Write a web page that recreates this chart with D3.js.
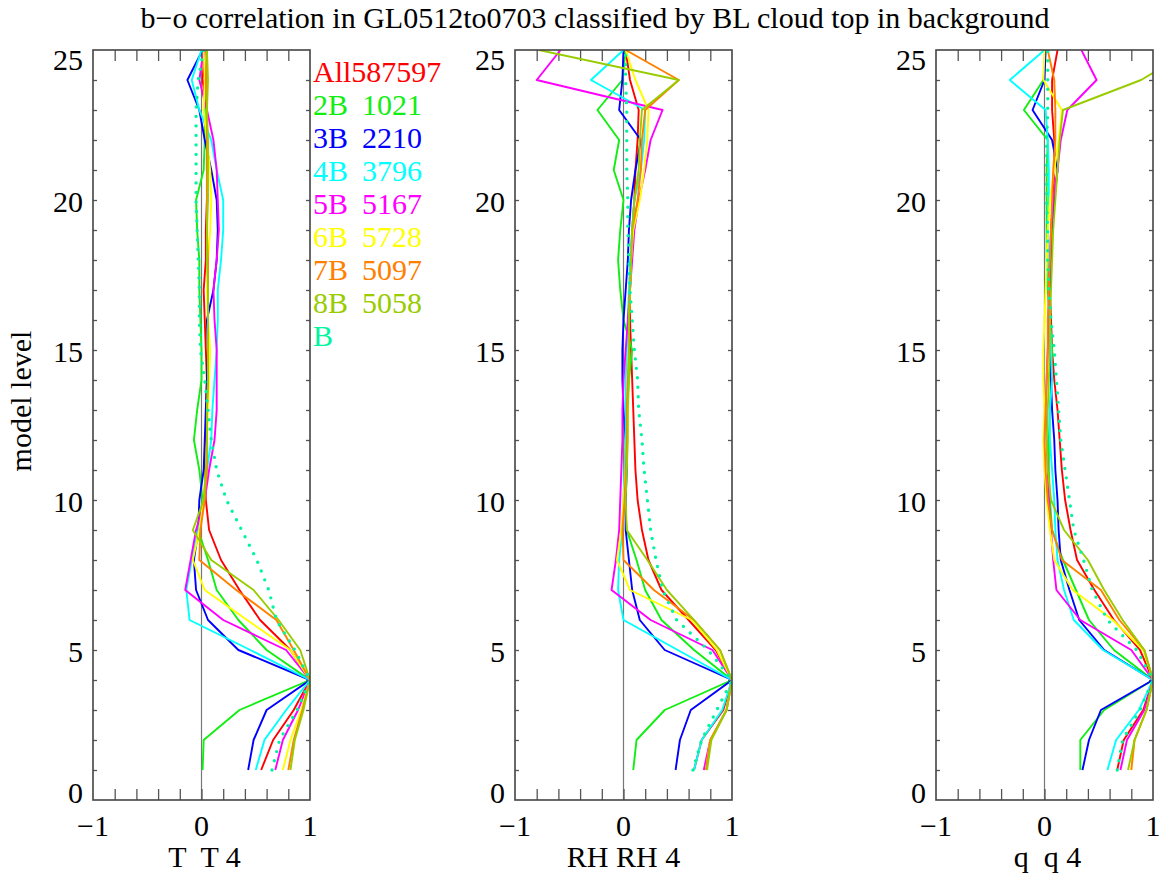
<!DOCTYPE html>
<html>
<head>
<meta charset="utf-8">
<script src="https://cdn.jsdelivr.net/npm/d3@7"></script>
<style>
	body { margin: 0; background: #fff; }
	svg text { font-family: "Liberation Serif", "Times New Roman", serif; }
</style>
</head>
<body>
<div id="chart"></div>
<script>
// model levels 1..25
let levels = d3.range(1, 26);

let seriesNames = ["All", "2B", "3B", "4B", "5B", "6B", "7B", "8B", "B"];
let seriesCounts = ["587597", "1021", "2210", "3796", "5167", "5728", "5097", "5058", ""];
let seriesColors = ["#ff0000", "#11ee11", "#0000ff", "#00ffff", "#ff00ff", "#ffff00", "#ff8000", "#99cc00", "#00f5a0"];

let xTicks = [-1, 0, 1];
let yTicks = [0, 5, 10, 15, 20, 25];
let panelTitles = ["T  T 4", "RH RH 4", "q  q 4"];
let chartTitle = "b\u2212o correlation in GL0512to0703 classified by BL cloud top in background";
let yTitle = "model level";

// correlation with level 4, one row per series, levels 1..25
let corrT = [
	[0.55, 0.66, 0.85, 1, 0.82, 0.54, 0.35, 0.18, 0.07, 0.04, 0.03, 0.04, 0.04, 0.05, 0.04, 0.03, 0.02, 0.04, 0.04, 0.05, 0.05, 0.05, 0.05, 0.01, 0.03],
	[0.01, 0.02, 0.35, 1, 0.6, 0.34, 0.14, 0.06, -0.03, 0.01, -0.02, -0.07, -0.04, 0.0, 0.0, -0.01, -0.02, -0.02, -0.04, -0.05, 0.02, 0.03, 0.03, 0.04, 0.05],
	[0.43, 0.48, 0.6, 1, 0.34, 0.06, -0.05, -0.07, -0.03, -0.02, 0.02, 0.03, 0.04, 0.05, 0.06, 0.05, 0.11, 0.14, 0.15, 0.14, 0.09, 0.03, -0.02, -0.13, 0.01],
	[0.5, 0.58, 0.78, 1, 0.45, -0.11, -0.14, -0.09, -0.03, 0.02, 0.05, 0.09, 0.1, 0.12, 0.14, 0.15, 0.15, 0.18, 0.2, 0.2, 0.14, 0.09, -0.02, -0.09, 0.0],
	[0.68, 0.75, 0.89, 1, 0.78, 0.2, -0.15, -0.1, -0.05, 0.03, 0.07, 0.12, 0.14, 0.14, 0.14, 0.12, 0.11, 0.14, 0.16, 0.15, 0.14, 0.11, 0.05, -0.02, 0.02],
	[0.75, 0.82, 0.92, 1, 0.82, 0.42, 0.03, -0.08, -0.02, 0.02, 0.04, 0.05, 0.06, 0.07, 0.08, 0.06, 0.05, 0.06, 0.08, 0.09, 0.08, 0.05, 0.02, 0.03, 0.02],
	[0.8, 0.85, 0.93, 1, 0.85, 0.69, 0.32, -0.02, -0.01, 0.03, 0.05, 0.05, 0.05, 0.06, 0.06, 0.06, 0.06, 0.06, 0.05, 0.05, 0.05, 0.05, 0.05, 0.04, 0.05],
	[0.82, 0.86, 0.94, 1, 0.91, 0.71, 0.48, 0.09, -0.08, 0.02, 0.04, 0.05, 0.05, 0.06, 0.06, 0.06, 0.06, 0.05, 0.05, 0.06, 0.06, 0.06, 0.05, 0.06, 0.05],
	[0.65, 0.72, 0.88, 1, 0.86, 0.69, 0.62, 0.51, 0.37, 0.23, 0.14, 0.09, 0.06, 0.03, -0.01, -0.02, -0.02, -0.03, -0.04, -0.05, -0.05, -0.05, -0.05, -0.03, 0.02]
];

let corrRH = [
	[0.65, 0.72, 0.92, 1, 0.85, 0.6, 0.35, 0.23, 0.17, 0.13, 0.11, 0.1, 0.09, 0.08, 0.07, 0.06, 0.06, 0.07, 0.08, 0.1, 0.11, 0.13, 0.14, 0.06, 0.02],
	[0.09, 0.12, 0.38, 1, 0.65, 0.35, 0.2, 0.12, 0.03, 0.01, 0.01, 0.02, 0.03, 0.05, 0.08, 0.0, -0.03, -0.05, -0.03, 0.0, -0.09, -0.04, -0.24, -0.01, 0.02],
	[0.48, 0.52, 0.62, 1, 0.38, 0.15, 0.08, 0.05, 0.02, 0.02, 0.03, 0.02, 0.0, -0.01, -0.01, 0.0, 0.02, 0.04, 0.05, 0.07, 0.11, 0.16, -0.04, -0.01, 0.0],
	[0.65, 0.72, 0.91, 1, 0.5, 0.0, -0.05, -0.04, -0.01, 0.0, 0.01, 0.02, 0.02, 0.02, 0.03, 0.04, 0.05, 0.06, 0.08, 0.1, 0.16, 0.19, 0.2, -0.3, 0.0],
	[0.74, 0.8, 0.95, 1, 0.82, 0.25, -0.11, -0.07, -0.04, -0.03, -0.02, -0.01, -0.01, 0.0, 0.02, 0.04, 0.06, 0.08, 0.1, 0.14, 0.2, 0.25, 0.36, -0.8, -0.58],
	[0.76, 0.8, 0.95, 1, 0.86, 0.63, 0.06, -0.06, -0.02, 0.0, 0.02, 0.03, 0.04, 0.04, 0.05, 0.05, 0.06, 0.07, 0.09, 0.15, 0.19, 0.22, 0.23, 0.11, 0.02],
	[0.76, 0.8, 0.95, 1, 0.89, 0.65, 0.28, 0.0, -0.01, 0.01, 0.02, 0.03, 0.03, 0.04, 0.05, 0.05, 0.06, 0.07, 0.08, 0.13, 0.16, 0.17, 0.2, 0.51, 0.02],
	[0.77, 0.81, 0.95, 1, 0.89, 0.65, 0.4, 0.22, 0.03, 0.02, 0.03, 0.04, 0.04, 0.05, 0.05, 0.05, 0.06, 0.07, 0.08, 0.1, 0.14, 0.15, 0.17, 0.51, -0.78],
	[0.64, 0.72, 0.86, 1, 0.78, 0.49, 0.36, 0.3, 0.25, 0.22, 0.19, 0.17, 0.14, 0.13, 0.1, 0.08, 0.06, 0.05, 0.04, 0.04, 0.03, 0.03, 0.03, 0.02, 0.02]
];

let corrQ = [
	[0.67, 0.73, 0.91, 1, 0.88, 0.64, 0.46, 0.3, 0.24, 0.19, 0.16, 0.14, 0.12, 0.09, 0.07, 0.06, 0.05, 0.06, 0.06, 0.08, 0.09, 0.09, 0.07, 0.07, 0.12],
	[0.33, 0.33, 0.55, 1, 0.64, 0.41, 0.29, 0.17, 0.07, 0.05, 0.04, 0.04, 0.05, 0.06, 0.07, 0.05, 0.03, 0.02, 0.02, 0.02, 0.02, 0.03, -0.19, -0.01, 0.01],
	[0.35, 0.41, 0.52, 1, 0.55, 0.32, 0.23, 0.15, 0.13, 0.12, 0.1, 0.09, 0.07, 0.06, 0.05, 0.05, 0.05, 0.06, 0.07, 0.09, 0.12, 0.07, -0.11, 0.0, 0.01],
	[0.58, 0.66, 0.87, 1, 0.54, 0.27, 0.18, 0.12, 0.1, 0.09, 0.07, 0.05, 0.05, 0.07, 0.06, 0.05, 0.04, 0.03, 0.03, 0.04, 0.04, 0.03, 0.01, -0.32, 0.0],
	[0.7, 0.76, 0.92, 1, 0.8, 0.33, 0.11, 0.08, 0.06, 0.04, 0.03, 0.02, 0.01, 0.02, 0.03, 0.04, 0.04, 0.05, 0.06, 0.08, 0.12, 0.15, 0.21, 0.48, 0.34],
	[0.8, 0.83, 0.94, 1, 0.91, 0.63, 0.26, 0.09, 0.05, 0.02, 0.0, -0.01, 0.0, -0.01, -0.01, 0.0, 0.01, 0.02, 0.03, 0.05, 0.09, 0.13, 0.16, -0.01, 0.0],
	[0.8, 0.83, 0.94, 1, 0.92, 0.69, 0.52, 0.16, 0.07, 0.03, 0.01, 0.0, 0.01, 0.02, 0.03, 0.03, 0.04, 0.05, 0.06, 0.07, 0.08, 0.1, 0.1, 0.09, 0.03],
	[0.77, 0.83, 0.94, 1, 0.92, 0.72, 0.55, 0.4, 0.18, 0.06, 0.03, 0.02, 0.03, 0.04, 0.05, 0.05, 0.06, 0.07, 0.08, 0.1, 0.12, 0.14, 0.17, 0.89, 1.35],
	[0.67, 0.72, 0.88, 1, 0.85, 0.58, 0.44, 0.36, 0.27, 0.23, 0.19, 0.15, 0.13, 0.11, 0.09, 0.06, 0.04, 0.03, 0.03, 0.02, 0.02, 0.02, 0.03, 0.03, 0.03]
];

let svg;
let width = 1161, height = 879;
let panelLeft = [93, 515, 936];
let panelWidth = 217;
let plotTop = 50, plotBottom = 800;
let fontSize = "30px";

//
//	initD3
//
//
initD3 = function () {
	svg = d3
		.select("#chart")
		.append("svg")
		.attr("width", width)
		.attr("height", height);

	svg
		.append("text")
		.attr("x", 595)
		.attr("y", 28)
		.attr("text-anchor", "middle")
		.attr("font-size", fontSize)
		.text(chartTitle);

	svg
		.append("text")
		.attr("transform", "translate(31,401) rotate(-90)")
		.attr("text-anchor", "middle")
		.attr("font-size", fontSize)
		.text(yTitle);
};

//
//	drawPanel
//
//
drawPanel = function (idx, data) {
	let left = panelLeft[idx];
	let x = d3.scaleLinear().domain([-1, 1]).range([left, left + panelWidth]);
	let y = d3.scaleLinear().domain([0, 25]).range([plotBottom, plotTop]);

	let g = svg.append("g");
	let clipId = "clip" + idx;
	g.append("clipPath")
		.attr("id", clipId)
		.append("rect")
		.attr("x", x(-1))
		.attr("y", y(25))
		.attr("width", x(1) - x(-1))
		.attr("height", y(0) - y(25));

	// zero line
	g.append("line")
		.attr("x1", x(0))
		.attr("x2", x(0))
		.attr("y1", y(0))
		.attr("y2", y(25))
		.attr("stroke", "#777")
		.attr("stroke-width", 1.2);

	// minor ticks every 0.2 on bottom and top, every level on both sides
	let tickColor = "#555";
	let xMinor = d3.range(-8, 9, 2).map((d) => d / 10);
	let yMinor = d3.range(1, 25);

	let bottomAxis = d3.axisBottom(x).tickValues(xMinor).tickSize(-11).tickFormat("");
	let topAxis = d3.axisTop(x).tickValues(xMinor).tickSize(-11).tickFormat("");
	let leftAxis = d3.axisLeft(y).tickValues(yMinor).tickSize(-4).tickFormat("");
	let rightAxis = d3.axisRight(y).tickValues(yMinor).tickSize(-4).tickFormat("");

	[
		[bottomAxis, "translate(0," + y(0) + ")"],
		[topAxis, "translate(0," + y(25) + ")"],
		[leftAxis, "translate(" + x(-1) + ",0)"],
		[rightAxis, "translate(" + x(1) + ",0)"],
	].forEach((a) => {
		let ax = g.append("g").attr("transform", a[1]).call(a[0]);
		ax.select(".domain").remove();
		ax.selectAll("line").attr("stroke", tickColor).attr("stroke-width", 1.3);
	});

	// series lines
	let line = d3
		.line()
		.x((d) => x(d[1]))
		.y((d) => y(d[0]));

	let lines = g.append("g").attr("clip-path", "url(#" + clipId + ")");
	data.forEach((values, i) => {
		let pts = levels.map((lv, k) => [lv, values[k]]);
		let p = lines
			.append("path")
			.datum(pts)
			.attr("d", line)
			.attr("fill", "none")
			.attr("stroke", seriesColors[i])
			.attr("stroke-linejoin", "round");
		if (seriesNames[i] === "B") {
			p.attr("stroke-width", 3.4)
				.attr("stroke-linecap", "round")
				.attr("stroke-dasharray", "0,9.5");
		} else {
			p.attr("stroke-width", 1.9);
		}
	});

	// frame
	g.append("rect")
		.attr("x", x(-1))
		.attr("y", y(25))
		.attr("width", x(1) - x(-1))
		.attr("height", y(0) - y(25))
		.attr("fill", "none")
		.attr("stroke", "#444")
		.attr("stroke-width", 1.6);

	// tick labels
	g.selectAll(".xlab")
		.data(xTicks)
		.enter()
		.append("text")
		.attr("x", (d) => x(d))
		.attr("y", 836)
		.attr("text-anchor", "middle")
		.attr("font-size", fontSize)
		.text((d) => (d < 0 ? "\u2212" + Math.abs(d) : d));

	g.selectAll(".ylab")
		.data(yTicks)
		.enter()
		.append("text")
		.attr("x", x(-1) - 10)
		.attr("y", (d) => y(d) + (d === 0 ? -8 : d === 25 ? 9 : 1))
		.attr("dy", "0.35em")
		.attr("text-anchor", "end")
		.attr("font-size", fontSize)
		.text((d) => d);

	g.append("text")
		.attr("x", x(0) + (idx === 1 ? 0 : 3))
		.attr("y", 867)
		.attr("text-anchor", "middle")
		.attr("font-size", fontSize)
		.style("white-space", "pre")
		.text(panelTitles[idx]);
};

//
//	drawLegend
//
//
drawLegend = function () {
	let lg = svg.append("g");
	seriesNames.forEach((name, i) => {
		let yPos = 82 + i * 33;
		if (i === 0) {
			lg.append("text")
				.attr("x", 313)
				.attr("y", yPos)
				.attr("font-size", fontSize)
				.attr("fill", seriesColors[i])
				.text(name + seriesCounts[i]);
		} else {
			lg.append("text")
				.attr("x", 313)
				.attr("y", yPos)
				.attr("font-size", fontSize)
				.attr("fill", seriesColors[i])
				.text(name);
			lg.append("text")
				.attr("x", 362)
				.attr("y", yPos)
				.attr("font-size", fontSize)
				.attr("fill", seriesColors[i])
				.text(seriesCounts[i]);
		}
	});
};

initD3();
drawPanel(0, corrT);
drawPanel(1, corrRH);
drawPanel(2, corrQ);
drawLegend();
</script>
</body>
</html>
